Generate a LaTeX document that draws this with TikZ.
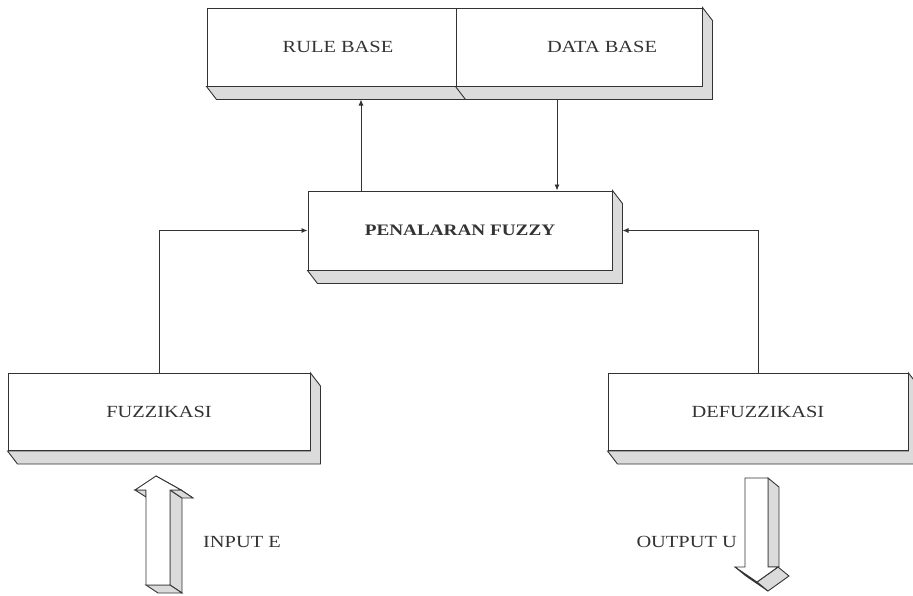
\documentclass[tikz,border=0pt]{standalone}
\usepackage{fontspec}
\setmainfont{Liberation Serif}[FakeStretch=1.2]
\usetikzlibrary{arrows.meta,calc}
\definecolor{ink}{HTML}{333333}
\tikzset{
  face/.style={draw=ink, line width=1pt, fill=white, text=ink, inner sep=0pt,
               font=\fontsize{17}{20}\selectfont},
  band/.style={draw=ink, line width=0.9pt, fill=gray!28},
  arr/.style={draw=ink, line width=0.9pt, -{Latex[length=6pt,width=5pt]}},
  lbl/.style={text=ink, inner sep=0pt, font=\fontsize{17}{20}\selectfont}
}
\newcommand{\bottomband}[1]{%
  \filldraw[band] (#1.south west) -- ([shift={(10,13)}]#1.south west) --
    ([shift={(10,13)}]#1.south east) -- (#1.south east) -- cycle;}
\newcommand{\fullband}[1]{%
  \filldraw[band] (#1.south west) -- ([shift={(10,13)}]#1.south west) --
    ([shift={(10,13)}]#1.south east) -- ([shift={(10,13)}]#1.north east) --
    (#1.north east) -- (#1.south east) -- cycle;}
\begin{document}
\begin{tikzpicture}[x=1pt,y=-1pt]
\useasboundingbox (0,0) rectangle (913,595);

% boxes (front faces)
\node[face, minimum width=249pt, minimum height=78pt] (rb) at (331.5,47) {\hspace*{13pt}RULE BASE};
\node[face, minimum width=246pt, minimum height=78pt] (db) at (579,47) {\hspace*{46pt}DATA BASE};
\node[face, minimum width=304pt, minimum height=79pt, font=\fontsize{16}{19}\bfseries\selectfont] (pf) at (460,230.5) {PENALARAN FUZZY};
\node[face, minimum width=302pt, minimum height=77pt] (fz) at (159,412) {FUZZIKASI};
\node[face, minimum width=300pt, minimum height=77pt] (dz) at (758,412) {DEFUZZIKASI};

% 3D bands
\bottomband{rb}
\fullband{db}
\fullband{pf}
\fullband{fz}
\fullband{dz}

\coordinate (tb) at ([yshift=-13pt]rb.south);

% connectors
\draw[arr] ([xshift=-99pt]pf.north) -- ([xshift=-99pt]pf.north |- tb);
\draw[arr] ([xshift=97pt]pf.north |- tb) -- ([xshift=97pt]pf.north);
\draw[arr] (fz.north) -- (fz.north |- pf.west) -- (pf.west);
\draw[arr] (dz.north) -- (dz.north |- pf.east) -- ([xshift=10pt]pf.east);

% input block arrow (up)
\filldraw[band] (146,490) -- (135,490) -- (146,497) -- cycle;
\filldraw[band] (170,490) -- (182,498) -- (182,593) -- (170,585) -- cycle;
\filldraw[band] (146,585) -- (170,585) -- (182,593) -- (158,593) -- cycle;
\filldraw[band] (156,476) -- (168,484) -- (193,498) -- (181,490) -- cycle;
\filldraw[band] (181,490) -- (193,498) -- (182,498) -- (170,490) -- cycle;
\filldraw[draw=ink, line width=0.9pt, fill=white]
  (146,585) -- (146,490) -- (135,490) -- (156,476) -- (181,490) -- (170,490) -- (170,585) -- cycle;
\node[lbl, anchor=west] (inp) at (203,542) {INPUT E};

% output block arrow (down)
\filldraw[band] (735,567) -- (746,576) -- (768,591) -- (757,582) -- cycle;
\filldraw[band] (768,478) -- (779,487) -- (779,567) -- (768,567) -- cycle;
\filldraw[band] (757,582) -- (778,567) -- (789,576) -- (768,591) -- cycle;
\filldraw[draw=ink, line width=0.9pt, fill=white]
  (745,478) -- (768,478) -- (768,567) -- (778,567) -- (757,582) -- (735,567) -- (745,567) -- cycle;
\node[lbl, anchor=east] (outp) at (737,542) {OUTPUT U};
\end{tikzpicture}
\end{document}
